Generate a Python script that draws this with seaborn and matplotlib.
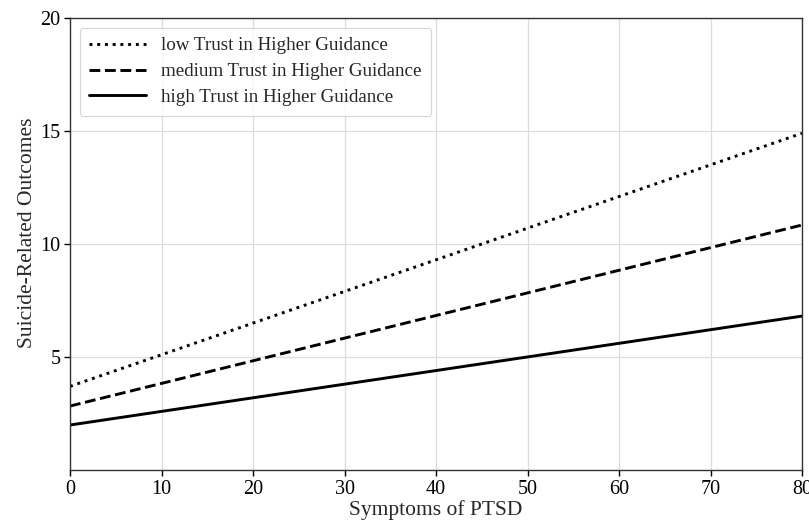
import matplotlib
matplotlib.use("Agg")
import matplotlib.pyplot as plt
import seaborn as sns
import pandas as pd

x_vals = [0, 80]
low_vals = [3.70, 14.90]
medium_vals = [2.83, 10.84]
high_vals = [1.99, 6.81]
series_names = ["low Trust in Higher Guidance",
                "medium Trust in Higher Guidance",
                "high Trust in Higher Guidance"]
x_ticks = [0, 10, 20, 30, 40, 50, 60, 70, 80]
y_ticks = [5, 10, 15, 20]

sns.set_style("whitegrid")
plt.rcParams['font.family'] = ['Liberation Serif', 'DejaVu Serif']

rows = []
for name, vals in zip(series_names, [low_vals, medium_vals, high_vals]):
    for xv, yv in zip(x_vals, vals):
        rows.append({"x": xv, "y": yv, "series": name})
df = pd.DataFrame(rows)

fig, ax = plt.subplots(figsize=(8.09, 5.21), dpi=100)
fig.subplots_adjust(left=70/809, right=802/809, top=1-18/521, bottom=1-470/521)

styles = {series_names[0]: ':', series_names[1]: '--', series_names[2]: '-'}
for name in series_names:
    sub = df[df["series"] == name]
    sns.lineplot(data=sub, x="x", y="y", ax=ax, color="black", linewidth=2.1,
                 linestyle=styles[name], label=name)

ax.set_xlim(0, 80)
ax.set_ylim(0, 20)
ax.set_xticks(x_ticks)
ax.set_yticks(y_ticks)
ax.tick_params(axis='both', labelsize=14.5, length=4, width=1, colors='black', direction='out',
               bottom=True, left=True, pad=3)
ax.set_xlabel("Symptoms of PTSD", fontsize=15.5, labelpad=1)
ax.set_ylabel("Suicide-Related Outcomes", fontsize=15.5)
ax.yaxis.set_label_coords(-0.045, 0.525)
ax.grid(True, color='#dddddd', linewidth=0.9)
for s in ax.spines.values():
    s.set_color('#333333')
    s.set_linewidth(1.0)

leg = ax.legend(loc='upper left', fontsize=13.7, frameon=True, handlelength=3.0,
                borderpad=0.5, labelspacing=0.45, bbox_to_anchor=(0.0, 1.0))
leg.get_frame().set_edgecolor('#cccccc')
leg.get_frame().set_linewidth(0.8)

fig.savefig("out.png", dpi=100)
